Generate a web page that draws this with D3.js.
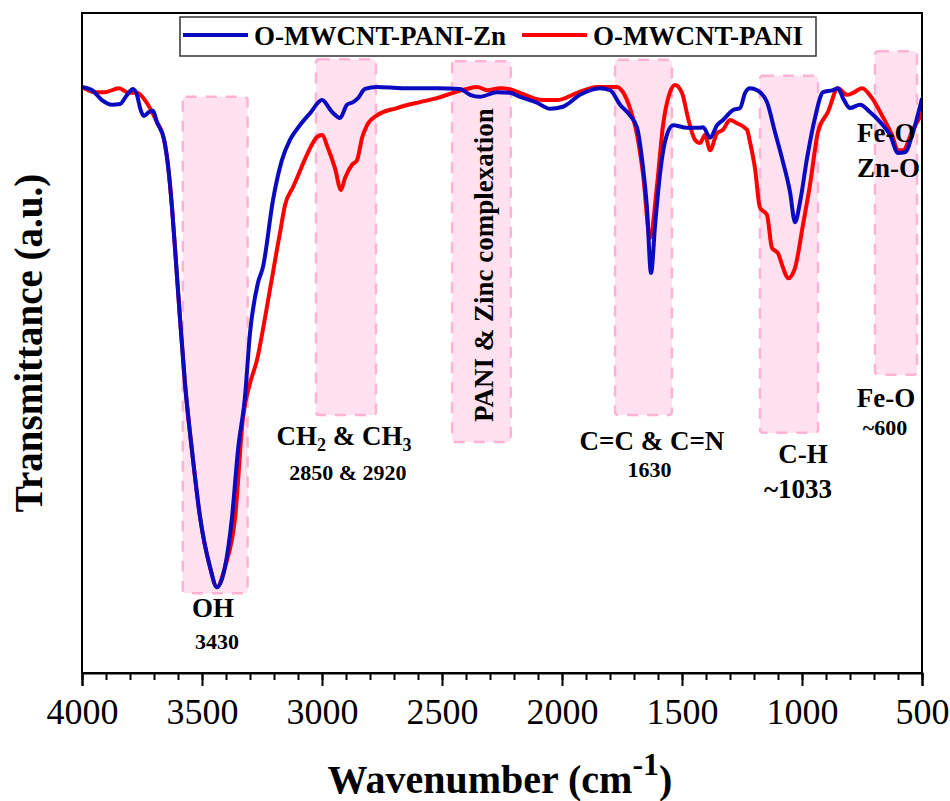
<!DOCTYPE html>
<html><head><meta charset="utf-8">
<script src="https://cdn.jsdelivr.net/npm/d3@7"></script>
<style>body{margin:0;background:#fff}svg{display:block}</style>
</head><body>
<svg id="chart" width="950" height="801"></svg>
<script>
// ---------- data ----------
const seriesNames = ["O-MWCNT-PANI-Zn", "O-MWCNT-PANI"];
const znWavenumber = [4000,3958,3917,3875,3842,3812,3788,3771,3758,3742,3721,3704,3688,3658,3642,3625,3612,3592,3571,3542,3508,3467,3438,3404,3375,3350,3321,3300,3267,3246,3204,3167,3133,3092,3050,3000,2958,2925,2896,2871,2850,2821,2771,2663,2521,2425,2383,2342,2271,2217,2175,2104,2050,1996,1925,1842,1800,1758,1717,1687,1667,1646,1629,1612,1592,1571,1537,1479,1425,1412,1383,1354,1329,1287,1258,1237,1217,1187,1146,1113,1079,1050,1029,1008,979,946,912,871,850,829,800,758,717,675,633,600,571,537,500];
const znTransmittance = [88.8,88.3,86.8,86.1,86.2,87.6,88.5,87.6,85.6,84.4,85.0,85.2,83.5,80.8,77.0,70.5,64.1,53.9,43.9,33.8,23.6,16.1,13.0,16.1,23.6,33.8,41.8,51.5,59.1,61.5,71.7,77.7,80.8,83.0,84.8,86.8,85.0,84.1,86.1,86.5,87.1,88.5,88.8,88.6,88.6,88.5,87.6,87.3,88.0,87.9,87.3,86.4,85.5,85.8,87.6,88.6,88.3,86.1,84.5,82.6,78.0,70.5,60.6,67.9,75.5,80.5,83.0,82.6,82.6,82.7,81.1,83.0,83.8,85.3,85.6,87.9,88.6,88.3,86.5,82.0,77.4,72.9,68.3,71.4,78.0,84.1,88.0,88.3,88.6,87.1,85.6,86.1,85.0,83.5,81.5,78.8,78.9,82.0,87.1];
const paniWavenumber = [4000,3946,3904,3846,3804,3771,3738,3708,3688,3658,3642,3625,3612,3592,3571,3542,3508,3467,3438,3404,3362,3329,3300,3271,3237,3188,3175,3154,3121,3104,3063,3021,3000,2975,2946,2921,2904,2875,2854,2833,2812,2771,2688,2592,2521,2454,2396,2354,2312,2258,2204,2175,2079,2021,1937,1854,1771,1746,1717,1687,1662,1633,1604,1579,1550,1529,1500,1475,1446,1425,1404,1383,1354,1329,1300,1271,1229,1217,1196,1175,1146,1125,1100,1079,1058,1029,996,967,933,892,850,812,787,750,708,667,625,600,579,542,500];
const paniTransmittance = [88.8,88.0,88.0,88.6,87.9,87.9,86.8,85.0,83.5,80.8,77.0,70.5,64.1,53.9,43.9,33.8,23.6,16.1,13.0,16.1,23.6,38.8,43.9,47.4,53.9,64.1,66.7,70.9,73.6,75.0,78.5,81.2,81.5,79.5,76.5,73.2,75.0,77.0,77.7,81.1,83.0,84.5,85.6,86.5,87.1,87.9,88.5,88.8,88.3,88.6,88.3,87.9,86.8,86.8,87.9,88.8,88.8,88.0,85.6,81.5,75.5,65.9,73.9,83.0,88.0,89.1,87.9,84.1,80.8,80.3,81.5,79.2,81.8,82.3,83.8,83.3,82.3,80.5,76.5,70.5,69.4,64.4,63.6,61.4,59.8,61.4,67.9,73.9,82.0,85.0,88.6,87.6,87.9,88.6,87.1,84.5,81.5,79.2,79.2,82.0,84.8];
const xTickValues = [4000,3500,3000,2500,2000,1500,1000,500];
const xMinorTickValues = d3.range(4000, 499, -100);
// highlighted absorption regions (wavenumber span, transmittance span)
const bandFrom   = [3580, 3025, 2458, 1779, 1175, 696];
const bandTo     = [3310, 2775, 2213, 1542,  933, 521];
const bandTop    = [87.3, 93.0, 92.7, 92.9, 90.5, 94.2];
const bandBottom = [12.1, 39.1, 35.0, 39.1, 36.4, 45.2];

// ---------- layout ----------
const svg = d3.select("#chart");
const pL = 82, pR = 922, pT = 13, pB = 673;
const x = d3.scaleLinear().domain([4000, 500]).range([pL, pR]);
const y = d3.scaleLinear().domain([0, 100]).range([pB, pT]);
const serif = "'Liberation Serif','Times New Roman',Times,serif";

// bands
const bands = d3.range(bandFrom.length).map(i => ({a: bandFrom[i], b: bandTo[i], t: bandTop[i], btm: bandBottom[i]}));
svg.append("g").selectAll("rect").data(bands).join("rect")
  .attr("x", d => x(d.a)).attr("width", d => x(d.b) - x(d.a))
  .attr("y", d => y(d.t)).attr("height", d => y(d.btm) - y(d.t))
  .attr("rx", 3)
  .attr("fill", "#ffe1f0")
  .attr("stroke", "#ffb3d4").attr("stroke-width", 2.5)
  .attr("stroke-dasharray", "11,9");

// curves
const line = d3.line().x(d => x(d[0])).y(d => y(d[1])).curve(d3.curveMonotoneX);
const zn = znWavenumber.map((w, i) => [w, znTransmittance[i]]);
const pani = paniWavenumber.map((w, i) => [w, paniTransmittance[i]]);
svg.append("clipPath").attr("id", "clip").append("rect")
  .attr("x", pL).attr("y", pT).attr("width", pR - pL).attr("height", pB - pT);
const cg = svg.append("g").attr("clip-path", "url(#clip)");
cg.append("path").datum(pani).attr("d", line).attr("fill", "none")
  .attr("stroke", "#ff0000").attr("stroke-width", 4).attr("stroke-linejoin", "round");
cg.append("path").datum(zn).attr("d", line).attr("fill", "none")
  .attr("stroke", "#0a0ac0").attr("stroke-width", 4).attr("stroke-linejoin", "round");

// frame
svg.append("rect").attr("x", pL).attr("y", pT).attr("width", pR - pL).attr("height", pB - pT)
  .attr("fill", "none").attr("stroke", "#000").attr("stroke-width", 2);

// x axis
const ax = svg.append("g").attr("transform", `translate(0,${pB})`);
ax.call(d3.axisBottom(x).tickValues(xMinorTickValues).tickSize(7).tickFormat(""))
  .call(g => g.select(".domain").remove())
  .call(g => g.selectAll("line").attr("stroke", "#000").attr("stroke-width", 2));
const axM = svg.append("g").attr("transform", `translate(0,${pB})`);
axM.call(d3.axisBottom(x).tickValues(xTickValues).tickSize(13).tickPadding(12).tickFormat(d3.format("d")))
  .call(g => g.select(".domain").attr("stroke", "#000").attr("stroke-width", 2))
  .call(g => g.selectAll("line").attr("stroke", "#000").attr("stroke-width", 2))
  .call(g => g.selectAll("text").attr("font-family", serif).attr("font-size", 36).attr("fill", "#000"));

// axis titles
const xt = svg.append("text").attr("x", 500).attr("y", 793).attr("text-anchor", "middle")
  .attr("font-family", serif).attr("font-weight", "bold").attr("font-size", 40).attr("fill", "#000");
xt.append("tspan").text("Wavenumber (cm");
xt.append("tspan").attr("dy", -18).attr("font-size", 32).text("-1");
xt.append("tspan").attr("dy", 18).text(")");
svg.append("text").attr("transform", `translate(42,${(pT + pB) / 2}) rotate(-90)`)
  .attr("text-anchor", "middle").attr("font-family", serif).attr("font-weight", "bold")
  .attr("font-size", 39).attr("fill", "#000").text("Transmittance (a.u.)");

// legend
const lg = svg.append("g");
lg.append("rect").attr("x", 180).attr("y", 17).attr("width", 636).attr("height", 39)
  .attr("fill", "#fff").attr("stroke", "#333").attr("stroke-width", 1.5);
const legColors = ["#0a0ac0", "#ff0000"];
const legX = [183, 522];
seriesNames.forEach((n, i) => {
  lg.append("line").attr("x1", legX[i]).attr("x2", legX[i] + 65).attr("y1", 35).attr("y2", 35)
    .attr("stroke", legColors[i]).attr("stroke-width", 4);
  lg.append("text").attr("x", legX[i] + 71).attr("y", 45).attr("font-family", serif)
    .attr("font-weight", "bold").attr("font-size", 27).attr("fill", "#000").text(n);
});

// annotations
function label(wn, t, txt, size, anchor) {
  return svg.append("text").attr("x", x(wn)).attr("y", y(t)).attr("text-anchor", anchor || "middle")
    .attr("font-family", serif).attr("font-weight", "bold").attr("font-size", size).attr("fill", "#000").text(txt);
}
label(3454, 8.5, "OH", 27);
label(3437, 3.6, "3430", 22);
const ch = label(2908, 34.5, "", 27);
ch.append("tspan").text("CH");
ch.append("tspan").attr("font-size", 18).attr("dy", 6).text("2");
ch.append("tspan").attr("dy", -6).text(" & CH");
ch.append("tspan").attr("font-size", 18).attr("dy", 6).text("3");
label(2892, 29.2, "2850 & 2920", 22);
svg.append("text").attr("transform", `translate(${x(2288)},${y(61.8)}) rotate(-90)`)
  .attr("text-anchor", "middle").attr("font-family", serif).attr("font-weight", "bold")
  .attr("font-size", 27).attr("fill", "#000").text("PANI & Zinc complexation");
label(1625, 33.8, "C=C & C=N", 27);
label(1635, 29.7, "1630", 22);
label(996, 31.8, "C-H", 27);
label(1017, 26.5, "~1033", 27);
label(771, 80.5, "Fe-O", 27, "start");
label(771, 75.2, "Zn-O", 27, "start");
label(650, 40.3, "Fe-O", 27);
label(654, 36.1, "~600", 22);
</script>
</body></html>
